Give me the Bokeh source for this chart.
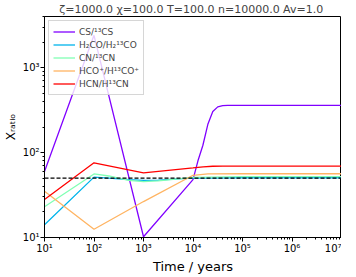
from bokeh.plotting import figure
from bokeh.models import Legend, LegendItem, Span, FixedTicker, Range1d
from bokeh.embed import file_html
from bokeh.resources import INLINE

# ---- data ----
t_cs = [1e1, 1e2, 1e3, 1e4, 1.259e4, 1.585e4, 1.995e4, 2.512e4, 3.162e4, 3.981e4, 5.012e4, 1e5, 1e6, 1e7]
cs = [60, 2400, 10.2, 48, 80, 122, 215, 305, 345, 357, 359, 359, 359, 359]

t_h2co = [1e1, 1e2, 2e2, 5e2, 1e3, 2e3, 5e3, 1e4, 1e5, 1e6, 1e7]
h2co = [14.1, 51.4, 50.0, 48.0, 47.0, 47.5, 49.0, 50.0, 50.5, 50.5, 50.5]

t_cn = [1e1, 1e2, 2e2, 5e2, 1e3, 2e3, 5e3, 1e4, 1e5, 1e6, 1e7]
cn = [23.0, 56.0, 53.0, 47.0, 45.5, 46.5, 49.0, 51.0, 52.0, 52.0, 52.0]

t_hco = [1e1, 1e2, 1e3, 1e4, 2e4, 1e5, 1e6, 1e7]
hco = [35.0, 12.5, 26.5, 54.0, 56.0, 56.3, 56.3, 56.3]

t_hcn = [1e1, 1e2, 1e3, 1e4, 1.6e4, 2.5e4, 4e4, 1e5, 1e6, 1e7]
hcn = [28.0, 75.7, 57.8, 66.0, 68.0, 69.0, 69.2, 69.3, 69.3, 69.3]

ref_ratio = 50.0

labels = ["CS/¹³CS", "H₂CO/H₂¹³CO", "CN/¹³CN", "HCO⁺/H¹³CO⁺", "HCN/H¹³CN"]
colors = ["#8000ff", "#00b4eb", "#80ffb4", "#ffb462", "#ff0000"]

x_ticks = [1e1, 1e2, 1e3, 1e4, 1e5, 1e6, 1e7]
x_tick_labels = ["10¹", "10²", "10³", "10⁴", "10⁵", "10⁶", "10⁷"]
y_ticks = [1e1, 1e2, 1e3]
y_tick_labels = ["10¹", "10²", "10³"]

title = "ζ=1000.0 χ=100.0 T=100.0 n=10000.0  Av=1.0"
font = "DejaVu Sans"

p = figure(frame_width=297, frame_height=221, x_axis_type="log", y_axis_type="log",
           x_range=Range1d(1e1, 1e7), y_range=Range1d(10, 4000),
           output_backend="svg", toolbar_location=None,
           min_border_left=36, min_border_right=0, min_border_top=2, min_border_bottom=4)
p.title.text = title
p.title.align = "center"
p.title.text_font = font
p.title.text_font_size = "11px"
p.title.text_font_style = "normal"
p.title.standoff = 1
p.title.offset = 0

p.outline_line_color = "black"
p.outline_line_width = 1
p.outline_line_alpha = 1
p.xgrid.visible = False
p.ygrid.visible = False
p.background_fill_color = "white"
p.border_fill_color = "white"

minor_x = [m * d for d in x_ticks[:-1] for m in range(2, 10)]
minor_y = [m * d for d in [1, 10, 100, 1000] for m in range(2, 10)]
p.xaxis.ticker = FixedTicker(ticks=x_ticks, minor_ticks=minor_x)
p.yaxis.ticker = FixedTicker(ticks=y_ticks, minor_ticks=minor_y)
p.xaxis.major_label_overrides = {v: s for v, s in zip(x_ticks, x_tick_labels)}
p.yaxis.major_label_overrides = {v: s for v, s in zip(y_ticks, y_tick_labels)}

for ax in (p.xaxis[0], p.yaxis[0]):
    ax.axis_line_color = "black"
    ax.major_tick_in = 0
    ax.major_tick_out = 4
    ax.minor_tick_in = 0
    ax.minor_tick_out = 2
    ax.major_tick_line_color = "black"
    ax.minor_tick_line_color = "black"
    ax.major_label_text_font = font
    ax.major_label_text_font_size = "10px"
    ax.major_label_text_color = "black"
    ax.axis_label_text_font = font
    ax.axis_label_text_font_style = "normal"
    ax.axis_label_text_color = "black"
    ax.major_label_standoff = 1

p.xaxis.axis_label = "Time / years"
p.xaxis.axis_label_text_font_size = "13px"
p.xaxis.axis_label_standoff = 2
p.yaxis.axis_label = "Xᵣₐₜᵢₒ"
p.yaxis.axis_label_text_font_size = "12px"
p.yaxis.axis_label_standoff = 2

series = [(t_cs, cs), (t_h2co, h2co), (t_cn, cn), (t_hco, hco), (t_hcn, hcn)]
items = []
for (tx, vy), lab, col in zip(series, labels, colors):
    r = p.line(tx, vy, line_color=col, line_width=1.3)
    items.append(LegendItem(label=lab, renderers=[r]))

p.add_layout(Span(location=ref_ratio, dimension="width", line_color="black",
                  line_dash="4 2", line_width=1.2))

leg = Legend(items=items, location="top_left")
leg.label_text_font = font
leg.label_text_font_size = "9px"
leg.glyph_width = 22
leg.glyph_height = 13
leg.label_height = 13
leg.spacing = 0
leg.padding = 4
leg.margin = 4
leg.label_standoff = 4
leg.border_line_color = "#cccccc"
leg.border_line_alpha = 0.8
leg.background_fill_alpha = 0.8
p.add_layout(leg)

open("out.html", "w").write(file_html(p, INLINE))
